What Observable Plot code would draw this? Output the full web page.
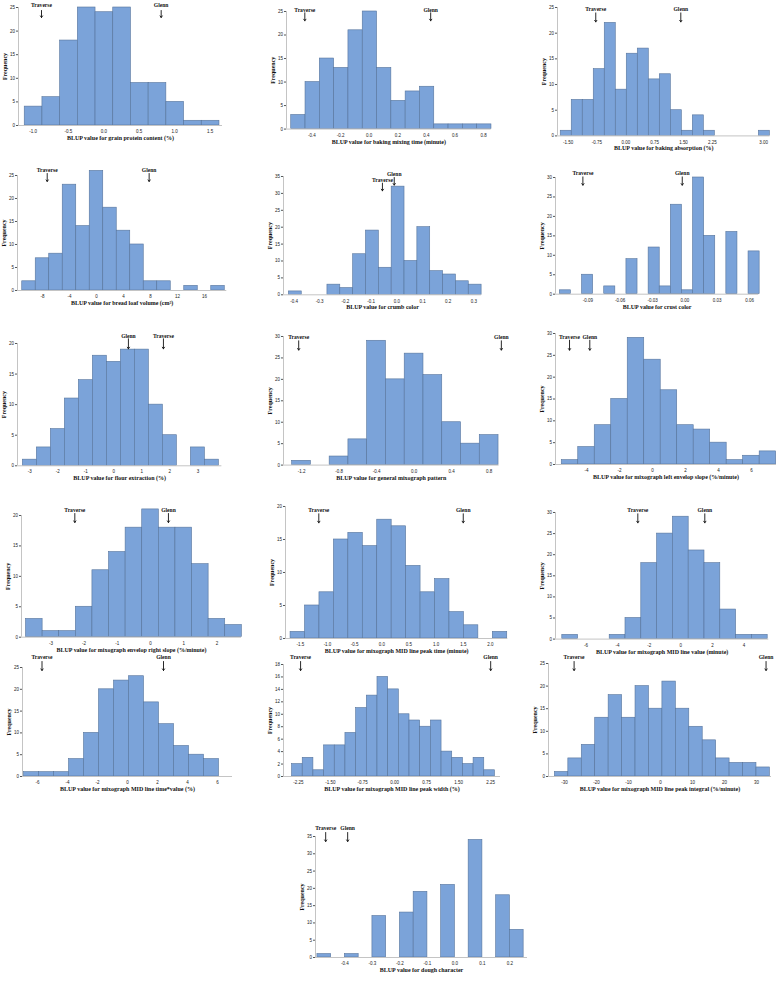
<!DOCTYPE html>
<html><head><meta charset="utf-8">
<script src="https://cdn.jsdelivr.net/npm/d3@7"></script>
<script src="https://cdn.jsdelivr.net/npm/@observablehq/plot@0.6"></script>
<style>
body{margin:0;background:#fff;}
#fig{position:relative;width:780px;height:997px;overflow:hidden;background:#fff;}
#fig svg{position:absolute;overflow:visible;}
</style></head><body><div id="fig"></div>
<script>
// ---------- DATA ----------
const xLabels = [
  "BLUP value for grain protein content (%)",
  "BLUP value for baking mixing time (minute)",
  "BLUP value for baking absorption (%)",
  "BLUP value for bread loaf volume (cm³)",
  "BLUP value for crumb color",
  "BLUP value for crust color",
  "BLUP value for flour extraction (%)",
  "BLUP value for general mixograph pattern",
  "BLUP value for mixograph left envelop slope (%/minute)",
  "BLUP value for mixograph envelop right slope (%/minute)",
  "BLUP value for mixograph MID line peak time (minute)",
  "BLUP value for mixograph MID line value (minute)",
  "BLUP value for mixograph MID line time*value (%)",
  "BLUP value for mixograph MID line peak width (%)",
  "BLUP value for mixograph MID line peak integral (%/minute)",
  "BLUP value for dough character"
];
const counts1  = [4,6,18,25,24,25,9,9,5,1,1];
const counts2  = [3,10,15,13,21,25,13,6,8,9,1,1,1,1];
const counts3  = [1,7,7,13,22,9,16,17,11,12,5,1,4,1,0,0,0,0,1];
const counts4  = [2,7,8,23,14,26,18,13,10,2,2,0,1,0,1];
const counts5  = [1,0,0,3,2,12,19,8,32,10,20,7,6,4,3];
const counts6  = [1,0,5,0,2,0,9,0,12,2,23,1,30,15,0,16,0,11];
const counts7  = [1,3,6,11,14,18,17,19,19,10,5,0,3,1];
const counts8  = [1,0,2,6,29,20,26,21,10,5,7];
const counts9  = [1,4,9,15,29,24,17,9,8,5,1,2,3];
const counts10 = [3,1,1,5,11,14,18,21,18,18,12,3,2];
const counts11 = [1,5,7,15,16,14,18,17,11,7,9,4,2,0,1];
const counts12 = [1,0,0,1,5,18,25,29,21,18,7,1,1];
const counts13 = [1,1,1,4,10,20,22,23,17,12,7,5,4];
const counts14 = [2,3,1,5,5,7,11,13,16,14,10,9,8,9,4,3,2,3,1];
const counts15 = [1,4,7,13,18,13,20,15,21,15,11,8,4,3,3,2];
const counts16 = [1,0,1,0,12,0,13,19,0,21,0,34,0,18,8];
const allCounts = [counts1,counts2,counts3,counts4,counts5,counts6,counts7,counts8,
                   counts9,counts10,counts11,counts12,counts13,counts14,counts15,counts16];
const binStart = [-1.117,-0.545,-1.69,-11,-0.42,-0.116,-3.25,-1.3,-5.5,-3.75,-1.68,-7.5,-6.9,-2.4,-33,-0.5];
const binWidth = [0.25,0.1,0.286,2,0.05,0.0103,0.5,0.2,1,0.5,0.266,1,1,0.25,4.2,0.05];
const traverseX = [-0.88,-0.45,-0.78,-7.3,-0.056,-0.0946,1.77,-1.23,-5.03,-2.28,-1.16,-2.72,-5.7,-2.2,-27,-0.47];
const glennX    = [0.81,0.43,1.43,7.8,-0.01,-0.0024,0.52,0.93,-3.8,0.54,1.5,1.52,2.4,2.25,33,-0.39];
const yMax  = [25,25,25,25,35,30,20,30,30,20,20,30,25,18,25,35];
const yStep = [5,5,5,5,5,5,5,5,5,5,5,5,5,2,5,5];
const xTickVals = [
  [-1,-0.5,0,0.5,1,1.5],
  [-0.4,-0.2,0,0.2,0.4,0.6,0.8],
  [-1.5,-0.75,0,0.75,1.5,2.25,3.58],
  [-8,-4,0,4,8,12,16],
  [-0.4,-0.3,-0.2,-0.1,0,0.1,0.2,0.3],
  [-0.09,-0.06,-0.03,0,0.03,0.06],
  [-3,-2,-1,0,1,2,3],
  [-1.2,-0.8,-0.4,0,0.4,0.8],
  [-4,-2,0,2,4,6],
  [-3,-2,-1,0,1,2],
  [-1.5,-1,-0.5,0,0.5,1,1.5,2],
  [-6,-4,-2,0,2,4],
  [-6,-4,-2,0,2,4,6],
  [-2.25,-1.5,-0.75,0,0.75,1.5,2.25],
  [-30,-20,-10,0,10,20,30],
  [-0.4,-0.3,-0.2,-0.1,0,0.1,0.2]
];
const xTickText = [
  ["-1.0","-0.5","0.0","0.5","1.0","1.5"],
  ["-0.4","-0.2","0.0","0.2","0.4","0.6","0.8"],
  ["-1.50","-0.75","0.00","0.75","1.50","2.25","3.00"],
  ["-8","-4","0","4","8","12","16"],
  ["-0.4","-0.3","-0.2","-0.1","0.0","0.1","0.2","0.3"],
  ["-0.09","-0.06","-0.03","0.00","0.03","0.06"],
  ["-3","-2","-1","0","1","2","3"],
  ["-1.2","-0.8","-0.4","0.0","0.4","0.8"],
  ["-4","-2","0","2","4","6"],
  ["-3","-2","-1","0","1","2"],
  ["-1.5","-1.0","-0.5","0.0","0.5","1.0","1.5","2.0"],
  ["-6","-4","-2","0","2","4"],
  ["-6","-4","-2","0","2","4","6"],
  ["-2.25","-1.50","-0.75","0.00","0.75","1.50","2.25"],
  ["-30","-20","-10","0","10","20","30"],
  ["-0.4","-0.3","-0.2","-0.1","0.0","0.1","0.2"]
];
const cultivars = ["Traverse","Glenn"];

// ---------- LAYOUT (page pixels; xd = x-domain at axis ends) ----------
const layout = [
  {ax:18,   xr:222,   yb:125,   yt:7,     xd:[-1.205,1.676],  lab:[5,5],       a1:[10,10],     a2:[17,17]},
  {ax:286,  xr:490.7, yb:128.3, yt:10.7,  xd:[-0.578,0.853],  lab:[9,9],       a1:[12,12],     a2:[20,20]},
  {ax:556.7,xr:769.3, yb:135.7, yt:7.3,   xd:[-1.774,3.75],   lab:[9.3,9.3],   a1:[12.7,12.7], a2:[21.7,21.7]},
  {ax:16.7, xr:226,   yb:290,   yt:175,   xd:[-11.7,19.3],    lab:[170,170],   a1:[173,173],   a2:[181,181]},
  {ax:282.7,xr:480.7, yb:294,   yt:175.7, xd:[-0.441,0.3296], lab:[179,173.3], a1:[182.3,176.7], a2:[190,184.3]},
  {ax:555,  xr:758.3, yb:294,   yt:177.3, xd:[-0.12,0.0686],  lab:[173.3,173.3], a1:[176.7,176.7], a2:[185,185]},
  {ax:17.3, xr:221.7, yb:465,   yt:342.7, xd:[-3.44,3.857],   lab:[335,335],   a1:[338,338],   a2:[348,348]},
  {ax:282.7,xr:498.3, yb:464.3, yt:335.7, xd:[-1.392,0.906],  lab:[336,336],   a1:[340,340],   a2:[349.3,349.3]},
  {ax:555,  xr:776,   yb:464.3, yt:333.3, xd:[-5.88,7.52],    lab:[336.7,336.7], a1:[340,340], a2:[350,350]},
  {ax:20.7, xr:240.7, yb:636.7, yt:515,   xd:[-3.886,2.74],   lab:[509.3,509.3], a1:[513,513], a2:[522,522]},
  {ax:285,  xr:507.3, yb:637.7, yt:505.7, xd:[-1.773,2.32],   lab:[509.3,509.3], a1:[513,513], a2:[522,522]},
  {ax:555,  xr:768.3, yb:638.3, yt:511.7, xd:[-7.93,5.57],    lab:[509.3,509.3], a1:[513,513], a2:[522,522]},
  {ax:22,   xr:232,   yb:776,   yt:667,   xd:[-7,7],          lab:[657,657],   a1:[661,661],   a2:[670,670]},
  {ax:283,  xr:500,   yb:776,   yt:664,   xd:[-2.6,2.48],     lab:[657,657],   a1:[661,661],   a2:[670,670]},
  {ax:548,  xr:771,   yb:776,   yt:663,   xd:[-35,34.7],      lab:[657,657],   a1:[661,661],   a2:[670,670]},
  {ax:315,  xr:527,   yb:957,   yt:836,   xd:[-0.507,0.264],  lab:[828,828],   a1:[832,832],   a2:[841,841]}
];

const BAR_FILL = "#7ba3d9", BAR_STROKE = "#56749c", AXIS = "#c4c4c4";
const SERIF = "Liberation Serif, Times New Roman, serif";
const SANS = "Liberation Sans, Arial, sans-serif";
const fig = document.getElementById("fig");

function panel(i) {
  const L = layout[i];
  const mL = 24, mR = 8, mT = 16, mB = 22;
  const width = L.xr - L.ax + mL + mR;
  const height = L.yb - L.yt + mT + mB;
  const ymax = yMax[i];
  const pY = p => ymax * (L.yb - p) / (L.yb - L.yt);
  const bins = allCounts[i].map((c, j) => ({
    x1: binStart[i] + j * binWidth[i],
    x2: binStart[i] + (j + 1) * binWidth[i],
    c
  })).filter(d => d.c > 0);
  const marks = [traverseX[i], glennX[i]].map((x, k) => ({
    name: cultivars[k], x, ly: pY(L.lab[k]), y1: pY(L.a1[k]), y2: pY(L.a2[k])
  }));
  const yt = d3.range(0, ymax + 1e-9, yStep[i]);
  const tmap = new Map(xTickVals[i].map((v, k) => [v, xTickText[i][k]]));
  const svg = Plot.plot({
    width, height, marginLeft: mL, marginRight: mR, marginTop: mT, marginBottom: mB,
    x: {domain: L.xd},
    y: {domain: [0, ymax]},
    style: {background: "transparent", overflow: "visible"},
    marks: [
      Plot.rectY(bins, {x1: "x1", x2: "x2", y: "c", fill: BAR_FILL, stroke: BAR_STROKE, strokeWidth: 0.6, inset: 0}),
      Plot.ruleY([0], {stroke: AXIS, strokeWidth: 1}),
      Plot.ruleX([L.xd[0]], {stroke: AXIS, strokeWidth: 1}),
      Plot.axisY({ticks: yt, tickSize: 2, tickPadding: 1.5, fontSize: 4.5, fontFamily: SANS, label: null,
                  tickFormat: d => String(d), stroke: "#555", fill: "#222"}),
      Plot.axisX({ticks: xTickVals[i], tickSize: 0, tickPadding: 4.5, fontSize: 4.5, fontFamily: SANS, label: null,
                  tickFormat: d => tmap.get(d), fill: "#222"}),
      Plot.text([xLabels[i]], {frameAnchor: "bottom", dy: 12.5, lineAnchor: "middle", textAnchor: "middle",
                  fontSize: 6, fontWeight: "bold", fontFamily: SERIF, fill: "#111"}),
      Plot.text(["Frequency"], {frameAnchor: "left", dx: -13.5, rotate: -90, textAnchor: "middle", lineAnchor: "middle",
                  fontSize: 6, fontWeight: "bold", fontFamily: SERIF, fill: "#111"}),
      Plot.arrow(marks, {x: "x", y1: "y1", y2: "y2", stroke: "#111", strokeWidth: 0.9, headLength: 3.2, headAngle: 70}),
      Plot.text(marks, {x: "x", y: "ly", text: "name", lineAnchor: "middle", textAnchor: "middle",
                  fontSize: 5.6, fontWeight: "bold", fontFamily: SERIF, fill: "#111"})
    ]
  });
  svg.style.left = (L.ax - mL) + "px";
  svg.style.top = (L.yt - mT) + "px";
  fig.appendChild(svg);
}
for (let i = 0; i < 16; i++) panel(i);
</script>
</body></html>
